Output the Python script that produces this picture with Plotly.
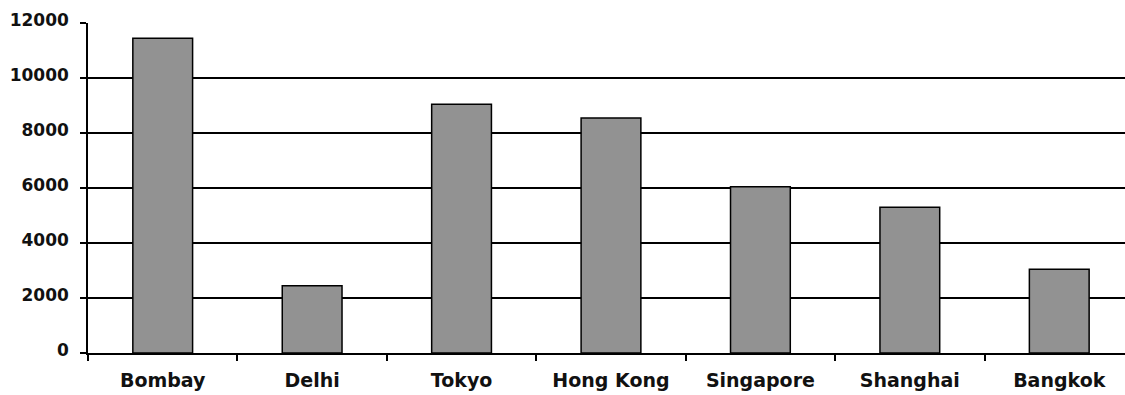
import plotly.graph_objects as go

cities = ["Bombay", "Delhi", "Tokyo", "Hong Kong", "Singapore", "Shanghai", "Bangkok"]
values = [11450, 2450, 9050, 8550, 6050, 5300, 3050]
y_ticks = [0, 2000, 4000, 6000, 8000, 10000, 12000]

FONT = "DejaVu Sans, Liberation Sans, Arial, sans-serif"

fig = go.Figure(go.Bar(
    x=cities, y=values, width=0.40,
    marker=dict(color="#929292", line=dict(color="#000000", width=1.5)),
))

fig.update_layout(
    width=1125, height=395,
    margin=dict(l=88, r=0, t=23, b=42),
    paper_bgcolor="white", plot_bgcolor="white",
    showlegend=False,
    font=dict(family=FONT, color="#111111"),
)
fig.update_xaxes(
    range=[-0.5, 6.44], showgrid=False,
    showline=True, linecolor="#000000", linewidth=1.5,
    ticks="outside", tickson="boundaries", ticklen=6, tickwidth=1.5, tickcolor="#000000",
    ticklabelstandoff=9,
    tickfont=dict(size=19, family=FONT, weight="bold", color="#111111"),
)
fig.update_yaxes(
    range=[0, 12000], tickvals=y_ticks, ticktext=[str(v) for v in y_ticks],
    showgrid=True, gridcolor="#000000", gridwidth=1.5,
    showline=True, linecolor="#000000", linewidth=1.5,
    ticks="outside", ticklen=6, tickwidth=1.5, tickcolor="#000000",
    ticklabelstandoff=8, ticklabelshift=-3,
    tickfont=dict(size=17, family=FONT, weight="bold", color="#111111"),
    zeroline=False,
)
fig.write_html("out.html")
